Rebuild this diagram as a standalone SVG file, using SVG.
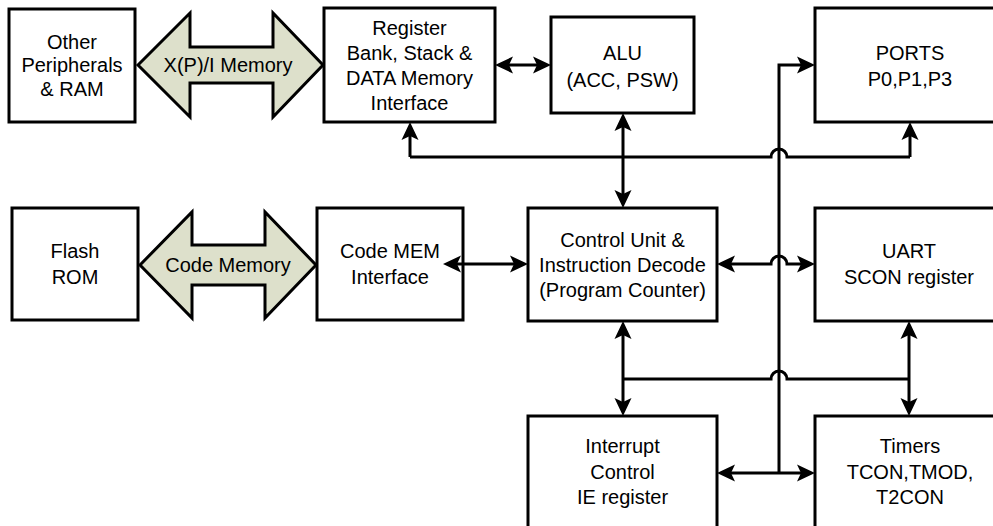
<svg xmlns="http://www.w3.org/2000/svg" width="993" height="526" viewBox="0 0 993 526">
<style>
.box{fill:#fff;stroke:#000;stroke-width:3}
.big{fill:#dde0cb;stroke:#000;stroke-width:3;stroke-linejoin:miter}
.t{font-family:"Liberation Sans",Arial,sans-serif;font-size:20px;fill:#000;text-anchor:middle}
.c{fill:none;stroke:#000;stroke-width:3}
.a{marker-end:url(#ah)}
.b{marker-start:url(#ah);marker-end:url(#ah)}
</style>
<defs>
<marker id="ah" markerUnits="userSpaceOnUse" viewBox="-11 -10 20 20" refX="0" refY="0" markerWidth="20" markerHeight="20" orient="auto-start-reverse">
<path d="M-10,-8.5 L8,0 L-10,8.5 L-6,0 z" fill="#000"/>
</marker>
</defs>
<rect width="993" height="526" fill="#fff"/>

<g id="other">
<rect class="box" x="9" y="9" width="126" height="113"/>
<text class="t" x="72" y="49">Other</text>
<text class="t" x="72" y="72">Peripherals</text>
<text class="t" x="72" y="96">&amp; RAM</text>
</g>
<g id="xpi">
<polygon class="big" points="138,65 190,13 190,47 273,47 273,13 323,65 273,117 273,83 190,83 190,117"/>
<text class="t" x="228" y="72">X(P)/I Memory</text>
</g>
<g id="register">
<rect class="box" x="324" y="8" width="171" height="114"/>
<text class="t" x="409.5" y="35">Register</text>
<text class="t" x="409.5" y="60">Bank, Stack &amp;</text>
<text class="t" x="409.5" y="85">DATA Memory</text>
<text class="t" x="409.5" y="110">Interface</text>
</g>
<g id="alu">
<rect class="box" x="551" y="17" width="143" height="96"/>
<text class="t" x="622.5" y="60">ALU</text>
<text class="t" x="622.5" y="87">(ACC, PSW)</text>
</g>
<g id="ports">
<rect class="box" x="815" y="8" width="200" height="114"/>
<text class="t" x="910" y="60">PORTS</text>
<text class="t" x="910" y="86">P0,P1,P3</text>
</g>
<g id="flash">
<rect class="box" x="12" y="208" width="126" height="112"/>
<text class="t" x="75" y="258">Flash</text>
<text class="t" x="75" y="284">ROM</text>
</g>
<g id="codemem-bus">
<polygon class="big" points="140,265 192,212 192,245 265,245 265,212 316,265 265,318 265,285 192,285 192,318"/>
<text class="t" x="228" y="272">Code Memory</text>
</g>
<g id="codemem">
<rect class="box" x="317" y="208" width="146" height="112"/>
<text class="t" x="390" y="258">Code MEM</text>
<text class="t" x="390" y="284">Interface</text>
</g>
<g id="control">
<rect class="box" x="528" y="208" width="189" height="113"/>
<text class="t" x="622.5" y="247">Control Unit &amp;</text>
<text class="t" x="622.5" y="272">Instruction Decode</text>
<text class="t" x="622.5" y="297">(Program Counter)</text>
</g>
<g id="uart">
<rect class="box" x="815" y="208" width="200" height="113"/>
<text class="t" x="909" y="258">UART</text>
<text class="t" x="909" y="284">SCON register</text>
</g>
<g id="interrupt">
<rect class="box" x="528" y="416" width="189" height="130"/>
<text class="t" x="622.5" y="453">Interrupt</text>
<text class="t" x="622.5" y="479">Control</text>
<text class="t" x="622.5" y="504">IE register</text>
</g>
<g id="timers">
<rect class="box" x="815" y="416" width="200" height="130"/>
<text class="t" x="910" y="453">Timers</text>
<text class="t" x="910" y="479">TCON,TMOD,</text>
<text class="t" x="910" y="504">T2CON</text>
</g>

<g id="connectors">
<line class="c b" x1="503" y1="65" x2="543" y2="65"/>
<line class="c b" x1="623" y1="121" x2="623" y2="200"/>
<path class="c" d="M410,157 H771 A8,8 0 0 1 787,157 H910"/>
<line class="c a" x1="410" y1="157" x2="410" y2="130"/>
<line class="c a" x1="910" y1="157" x2="910" y2="130"/>
<line class="c b" x1="451" y1="264" x2="520" y2="264"/>
<path class="c b" d="M725,264 H771 A8,8 0 0 1 787,264 H807"/>
<path class="c a" d="M779,473 V65 H807"/>
<line class="c b" x1="725" y1="473" x2="807" y2="473"/>
<line class="c b" x1="623" y1="329" x2="623" y2="408"/>
<line class="c b" x1="909" y1="329" x2="909" y2="408"/>
<path class="c" d="M623,379 H771 A8,8 0 0 1 787,379 H909"/>
</g>
</svg>
